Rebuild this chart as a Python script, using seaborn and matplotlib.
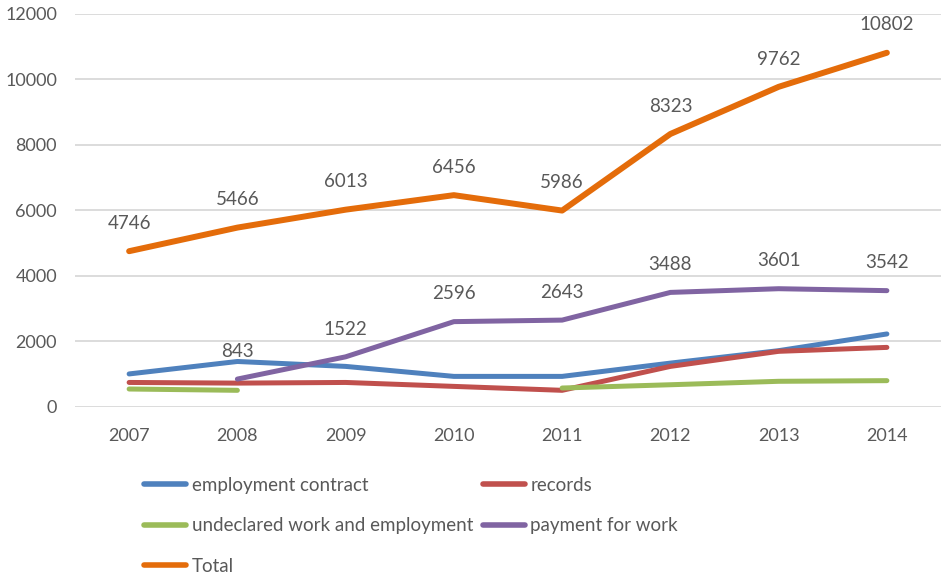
import numpy as np
import pandas as pd
import matplotlib
matplotlib.use("Agg")
import matplotlib.pyplot as plt
from matplotlib.lines import Line2D
import seaborn as sns

years = ["2007", "2008", "2009", "2010", "2011", "2012", "2013", "2014"]
employment_contract = [1000, 1380, 1230, 925, 925, 1330, 1710, 2220]
records = [740, 720, 740, 620, 500, 1230, 1690, 1810]
undeclared_work = [540, 500, np.nan, np.nan, 570, 670, 775, 795]
payment_for_work = [np.nan, 843, 1522, 2596, 2643, 3488, 3601, 3542]
total = [4746, 5466, 6013, 6456, 5986, 8323, 9762, 10802]

series_names = ["employment contract", "records", "undeclared work and employment",
                "payment for work", "Total"]
series_values = [employment_contract, records, undeclared_work, payment_for_work, total]
colors = ["#4F81BD", "#C0504D", "#9BBB59", "#8064A2", "#E46C0A"]
labelled = ["payment for work", "Total"]

rows = []
for name, vals in zip(series_names, series_values):
    seg = 0
    prev_nan = False
    for i, v in enumerate(vals):
        if np.isnan(v):
            prev_nan = True
            continue
        if prev_nan:
            seg += 1
            prev_nan = False
        rows.append({"x": i, "value": v, "series": name, "seg": f"{name}-{seg}"})
df = pd.DataFrame(rows)

sns.set_theme(style="white")
plt.rcParams["font.family"] = ["Lato", "DejaVu Sans"]
plt.rcParams["lines.solid_capstyle"] = "round"
plt.rcParams["lines.solid_joinstyle"] = "round"

fig = plt.figure(figsize=(9.41, 5.77), dpi=100)
ax = fig.add_axes([75 / 941, 170.3 / 577, 866 / 941, 393.2 / 577])

text_color = "#595959"
palette = dict(zip(series_names, colors))
for name in series_names:
    sub = df[df["series"] == name]
    sns.lineplot(data=sub, x="x", y="value", units="seg", estimator=None,
                 color=palette[name], linewidth=3.6 if name != "Total" else 4.3,
                 legend=False, ax=ax, sort=False)

for name, vals in zip(series_names, series_values):
    if name in labelled:
        for i, v in enumerate(vals):
            if not np.isnan(v):
                ax.annotate(f"{int(v)}", (i, v), xytext=(0, 20), textcoords="offset points",
                            ha="center", va="center", fontsize=13.5, color=text_color)

ax.set_xlim(-0.5, 7.5)
ax.set_ylim(0, 12000)
ax.set_yticks(np.arange(0, 12001, 2000))
ax.set_xticks(range(len(years)))
ax.set_xticklabels(years)
ax.set_xlabel("")
ax.set_ylabel("")
ax.grid(axis="y", color="#D9D9D9", linewidth=1.3)
ax.grid(axis="x", visible=False)
for s in ax.spines.values():
    s.set_visible(False)
ax.tick_params(axis="both", length=0, labelsize=13, colors=text_color)
ax.tick_params(axis="y", pad=13)
ax.tick_params(axis="x", pad=15)

handles = [Line2D([0], [0], color=c, lw=4) for c in colors]
order = [0, 2, 4, 1, 3]
leg = fig.legend([handles[i] for i in order], [series_names[i] for i in order],
                 ncol=2, loc="upper left", bbox_to_anchor=(144 / 941, 1 - 477 / 577),
                 frameon=False, fontsize=13.5, handlelength=2.25, handletextpad=0.3,
                 columnspacing=0.5, labelspacing=1.25, borderpad=0, borderaxespad=0)
for t in leg.get_texts():
    t.set_color(text_color)

fig.savefig("out.png", dpi=100)
